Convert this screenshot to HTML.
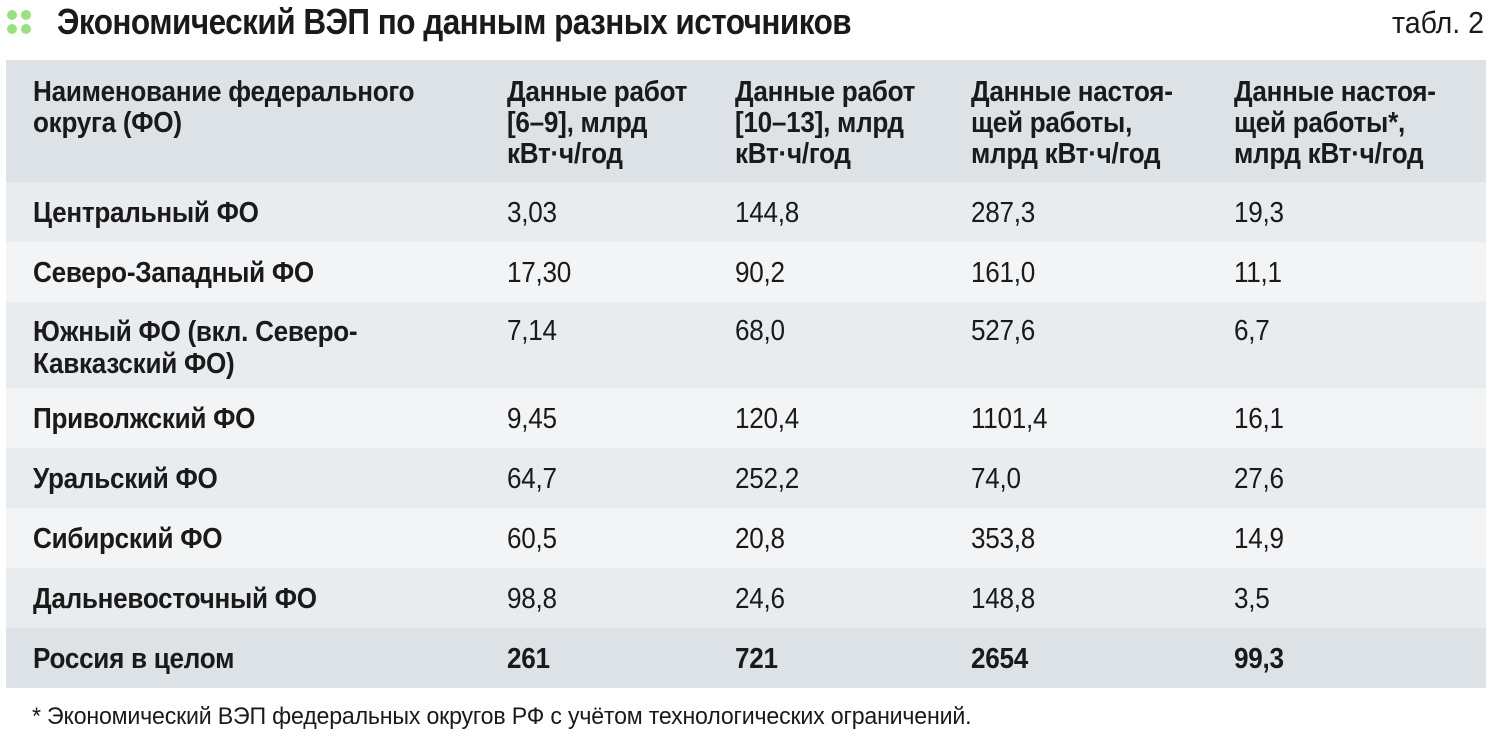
<!DOCTYPE html>
<html><head><meta charset="utf-8"><style>
body{margin:0;width:1492px;height:738px;background:#fff;position:relative;overflow:hidden;font-family:"Liberation Sans","Noto Sans CJK SC",sans-serif;color:#1a1a1a}
.a{position:absolute}
.r{position:absolute;left:6px;width:1480px}
.t{position:absolute;font-size:29px;line-height:30px;white-space:nowrap;letter-spacing:-0.3px;transform:scaleX(0.9);transform-origin:0 0}
.b{font-weight:bold}
.dot{position:absolute;width:10px;height:10px;border-radius:50%;background:#9be07f}
</style></head><body>
<div class="dot" style="left:7px;top:10px"></div><div class="dot" style="left:21px;top:10px"></div>
<div class="dot" style="left:7px;top:24px"></div><div class="dot" style="left:21px;top:24px"></div>
<div class="a b" style="left:57px;top:1px;font-size:36px;line-height:42px;letter-spacing:-0.6px;white-space:nowrap;transform:scaleX(0.875);transform-origin:0 0">Экономический ВЭП по данным разных источников</div>
<div class="a" style="right:8px;top:2px;font-size:31px;line-height:42px;transform:scaleX(0.92);transform-origin:100% 0">табл. 2</div>

<div class="r" style="top:60px;height:122px;background:#dce2e6"></div>
<div class="r" style="top:182px;height:60px;background:#e9ecef"></div>
<div class="r" style="top:242px;height:60px;background:#f3f4f6"></div>
<div class="r" style="top:302px;height:86px;background:#e9ecef"></div>
<div class="r" style="top:388px;height:60px;background:#f3f4f6"></div>
<div class="r" style="top:448px;height:60px;background:#e9ecef"></div>
<div class="r" style="top:508px;height:60px;background:#f3f4f6"></div>
<div class="r" style="top:568px;height:60px;background:#e9ecef"></div>
<div class="r" style="top:628px;height:60px;background:#dce2e6"></div>

<div class="t b" style="left:33px;top:77px;line-height:31px">Наименование федерального<br>округа (ФО)</div>
<div class="t b" style="left:507px;top:77px;line-height:31px">Данные работ<br>[6–9], млрд<br>кВт·ч/год</div>
<div class="t b" style="left:735px;top:77px;line-height:31px">Данные работ<br>[10–13], млрд<br>кВт·ч/год</div>
<div class="t b" style="left:971px;top:77px;line-height:31px">Данные настоя-<br>щей работы,<br>млрд кВт·ч/год</div>
<div class="t b" style="left:1234px;top:77px;line-height:31px">Данные настоя-<br>щей работы*,<br>млрд кВт·ч/год</div>

<div class="t b" style="left:33px;top:198px">Центральный ФО</div>
<div class="t" style="left:507px;top:198px">3,03</div><div class="t" style="left:735px;top:198px">144,8</div><div class="t" style="left:971px;top:198px">287,3</div><div class="t" style="left:1234px;top:198px">19,3</div>

<div class="t b" style="left:33px;top:258px">Северо-Западный ФО</div>
<div class="t" style="left:507px;top:258px">17,30</div><div class="t" style="left:735px;top:258px">90,2</div><div class="t" style="left:971px;top:258px">161,0</div><div class="t" style="left:1234px;top:258px">11,1</div>

<div class="t b" style="left:33px;top:316px;line-height:32px">Южный ФО (вкл. Северо-<br>Кавказский ФО)</div>
<div class="t" style="left:507px;top:316px">7,14</div><div class="t" style="left:735px;top:316px">68,0</div><div class="t" style="left:971px;top:316px">527,6</div><div class="t" style="left:1234px;top:316px">6,7</div>

<div class="t b" style="left:33px;top:404px">Приволжский ФО</div>
<div class="t" style="left:507px;top:404px">9,45</div><div class="t" style="left:735px;top:404px">120,4</div><div class="t" style="left:971px;top:404px">1101,4</div><div class="t" style="left:1234px;top:404px">16,1</div>

<div class="t b" style="left:33px;top:464px">Уральский ФО</div>
<div class="t" style="left:507px;top:464px">64,7</div><div class="t" style="left:735px;top:464px">252,2</div><div class="t" style="left:971px;top:464px">74,0</div><div class="t" style="left:1234px;top:464px">27,6</div>

<div class="t b" style="left:33px;top:524px">Сибирский ФО</div>
<div class="t" style="left:507px;top:524px">60,5</div><div class="t" style="left:735px;top:524px">20,8</div><div class="t" style="left:971px;top:524px">353,8</div><div class="t" style="left:1234px;top:524px">14,9</div>

<div class="t b" style="left:33px;top:584px">Дальневосточный ФО</div>
<div class="t" style="left:507px;top:584px">98,8</div><div class="t" style="left:735px;top:584px">24,6</div><div class="t" style="left:971px;top:584px">148,8</div><div class="t" style="left:1234px;top:584px">3,5</div>

<div class="t b" style="left:33px;top:644px">Россия в целом</div>
<div class="t b" style="left:507px;top:644px">261</div><div class="t b" style="left:735px;top:644px">721</div><div class="t b" style="left:971px;top:644px">2654</div><div class="t b" style="left:1234px;top:644px">99,3</div>

<div class="a" style="left:32px;top:702px;font-size:24px;line-height:30px;letter-spacing:-0.2px;white-space:nowrap;transform:scaleX(0.965);transform-origin:0 0">* Экономический ВЭП федеральных округов РФ с учётом технологических ограничений.</div>
</body></html>
